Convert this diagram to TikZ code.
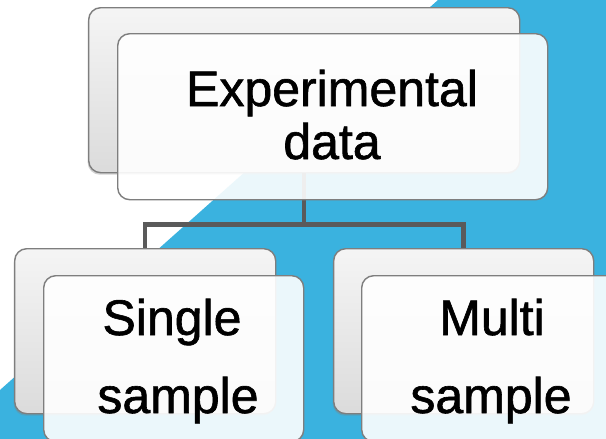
\documentclass[tikz,border=0pt]{standalone}
\usepackage{fontspec}
\setmainfont{Liberation Sans}
\newfontfamily\heavyfont[FakeBold=1.2]{Liberation Sans}
\usetikzlibrary{shadows}
\definecolor{bandblue}{HTML}{3AB2DF}
\definecolor{boxline}{HTML}{7E7E7E}
\definecolor{connc}{HTML}{5A5A5A}
\begin{document}
\begin{tikzpicture}[x=1pt,y=-1pt,
  backbox/.style={draw=boxline,line width=1.4pt,rounded corners=12pt,
    top color=gray!8,bottom color=gray!28,anchor=north west,inner sep=0pt,
    drop shadow={shadow xshift=-1pt,shadow yshift=-2pt,opacity=0.35}},
  frontbox/.style={draw=boxline,line width=1.4pt,rounded corners=12pt,
    fill=white,fill opacity=0.9,anchor=north west,inner sep=0pt},
  conn/.style={draw=connc,line width=4.5pt},
  txt/.style={font=\heavyfont\fontsize{50}{50}\selectfont,anchor=base,inner sep=0pt}]
\useasboundingbox (0,0) rectangle (606,439);
\fill[white] (0,0) rectangle (606,439);
\fill[bandblue] (438,0) -- (606,0) -- (606,439) -- (0,439) -- (0,390) -- cycle;
% back boxes
\node[backbox,minimum width=431pt,minimum height=165pt] (tb) at (88,7) {};
\node[backbox,minimum width=261pt,minimum height=165pt] (lb) at (14,248) {};
\node[backbox,minimum width=260pt,minimum height=165pt] (rb) at (333,248) {};
% connectors
\draw[conn] (tb.south) -- ++(0,51) coordinate (j);
\draw[conn] (j) -| (lb.north);
\draw[conn] (j) -| (rb.north);
% front boxes
\node[frontbox,minimum width=430pt,minimum height=166pt] (tf) at (117,33) {};
\node[frontbox,minimum width=260pt,minimum height=166pt] (lf) at (43,275) {};
\node[frontbox,minimum width=260pt,minimum height=166pt] (rf) at (361,275) {};
% texts
\node[txt] (t1) at (332,106) {Experimental};
\node[txt] (t2) at (332,159) {data};
\node[txt] (t3) at (172,335) {Single};
\node[txt] (t4) at (178,413) {sample};
\node[txt] (t5) at (492,335) {Multi};
\node[txt] (t6) at (491,413) {sample};
\end{tikzpicture}
\end{document}
